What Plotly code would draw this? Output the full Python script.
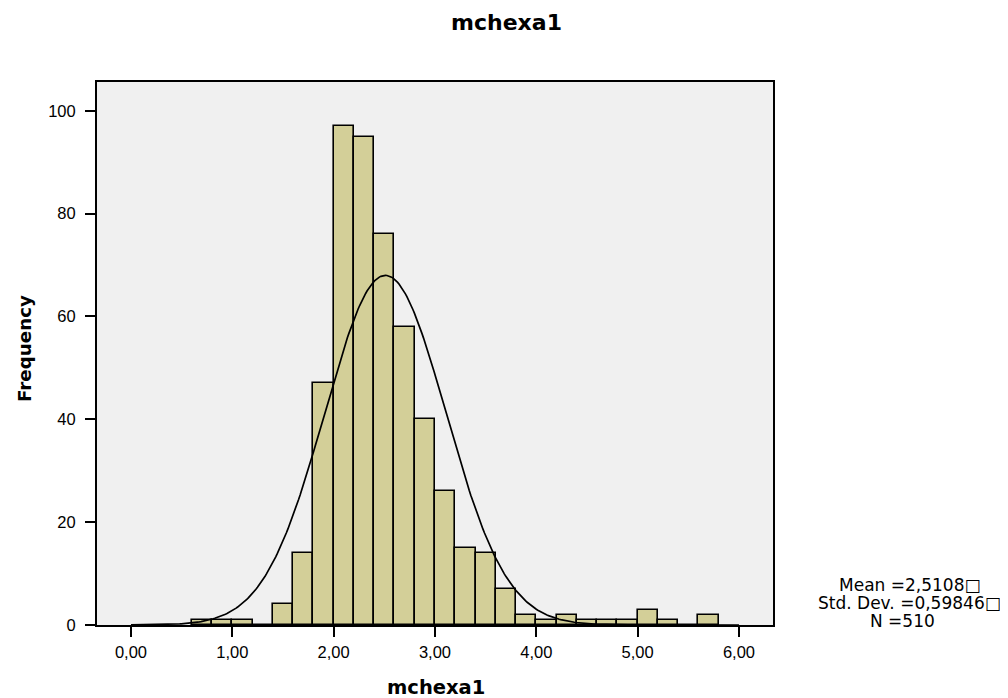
import numpy as np
import plotly.graph_objects as go

# Data
bin_starts = [0.6, 0.8, 1.0, 1.2, 1.4, 1.6, 1.8, 2.0, 2.2, 2.4, 2.6, 2.8, 3.0, 3.2,
              3.4, 3.6, 3.8, 4.0, 4.2, 4.4, 4.6, 4.8, 5.0, 5.2, 5.4, 5.6]
counts = [1, 1, 1, 0, 4, 14, 47, 97, 95, 76, 58, 40, 26, 15,
          14, 7, 2, 1, 2, 1, 1, 1, 3, 1, 0, 2]
bin_width = 0.2
mean = 2.5108
std = 0.59846
n = 510
x_tickvals = [0, 1, 2, 3, 4, 5, 6]
x_ticktext = ["0,00", "1,00", "2,00", "3,00", "4,00", "5,00", "6,00"]
y_tickvals = [0, 20, 40, 60, 80, 100]
stats_lines = ["Mean =2,5108\u25a1", "Std. Dev. =0,59846\u25a1", "N =510"]

lib = "Liberation Sans, Arial, sans-serif"
dej = "DejaVu Sans, sans-serif"

W, H = 1000, 690
L, R, T, B = 89, 235, 74, 73
pw, ph = W - L - R, H - T - B

centers = [b + bin_width / 2 for b in bin_starts]
fig = go.Figure()
fig.add_trace(go.Bar(
    x=centers, y=counts, width=bin_width,
    marker=dict(color="#D3CF98", line=dict(color="black", width=1.6)),
    showlegend=False, hoverinfo="skip"))

xs = np.linspace(0.0, 6.0, 400)
ys = n * bin_width * np.exp(-0.5 * ((xs - mean) / std) ** 2) / (std * np.sqrt(2 * np.pi))
fig.add_trace(go.Scatter(x=xs, y=ys, mode="lines",
                         line=dict(color="black", width=1.7),
                         showlegend=False, hoverinfo="skip"))

fig.update_layout(
    width=W, height=H,
    margin=dict(l=L, r=R, t=T, b=B),
    paper_bgcolor="white", plot_bgcolor="#F0F0F0",
    font=dict(family=lib, size=16.5, color="black"),
    bargap=0,
    title=dict(text="<b>mchexa1</b>", x=498.5 / W, xanchor="center",
               y=1 - 14 / H, yanchor="middle",
               font=dict(size=22, family=dej)),
    xaxis=dict(range=[-0.3355, 6.336], tickvals=x_tickvals, ticktext=x_ticktext,
               ticks="outside", ticklen=10, tickwidth=2, tickcolor="black",
               ticklabelstandoff=1,
               showline=True, linecolor="black", linewidth=2, mirror=True,
               showgrid=False, zeroline=False),
    yaxis=dict(range=[0, 105.6], tickvals=y_tickvals,
               ticks="outside", ticklen=10, tickwidth=2, tickcolor="black",
               ticklabelstandoff=6,
               showline=True, linecolor="black", linewidth=2, mirror=True,
               showgrid=False, zeroline=False),
)

def px_x(x):
    return (x - L) / pw

def px_y(y):
    return (H - B - y) / ph

# axis titles
fig.add_annotation(xref="paper", yref="paper", x=px_x(428), y=px_y(679),
                   text="<b>mchexa1</b>", showarrow=False,
                   xanchor="center", yanchor="middle",
                   font=dict(size=19.5, family=dej))
fig.add_annotation(xref="paper", yref="paper", x=px_x(16), y=px_y(341),
                   text="<b>Frequency</b>", showarrow=False, textangle=-90,
                   xanchor="center", yanchor="middle",
                   font=dict(size=18.3, family=dej))

# stats text
for txt, cx, cy in zip(stats_lines, [902, 901, 894], [577, 595, 613]):
    fig.add_annotation(xref="paper", yref="paper", x=px_x(cx), y=px_y(cy),
                       text=txt, showarrow=False, xanchor="center", yanchor="middle",
                       font=dict(size=17, family=dej))

fig.write_html("out.html")
